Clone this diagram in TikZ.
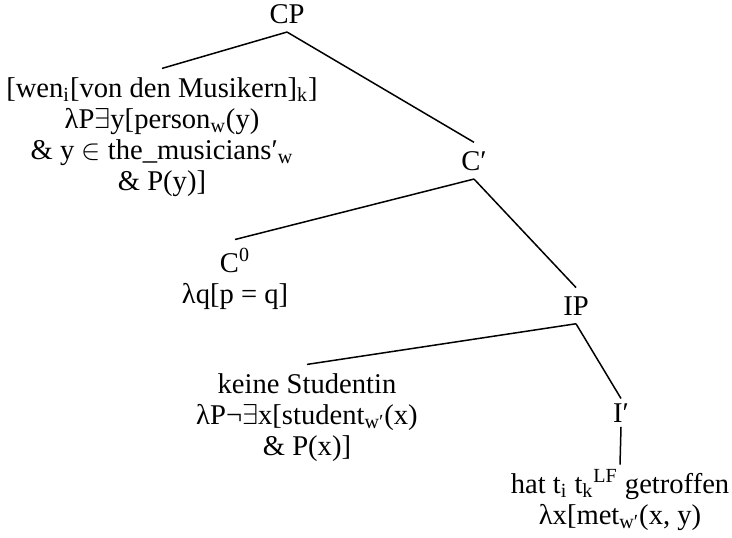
\documentclass[tikz,border=0pt]{standalone}
\usepackage{fontspec}
\setmainfont{Liberation Serif}
\begin{document}
\begin{tikzpicture}[x=0.5pt, y=-0.5pt, line width=0.75pt,
    font=\fontsize{14.3}{15.5}\selectfont,
    lbl/.style={align=center, anchor=base, inner sep=4pt}]

    % frame of the picture
    \useasboundingbox (0,0) rectangle (732,537);

    % top of the tree (base = baseline of the last line)
    \node[lbl] (cp) at (287,23) {CP};

    % moved wh-phrase
    \node[lbl] (whp) at (162,190) {[wen\textsubscript{i}[von den Musikern]\textsubscript{k}]\\
        λP$\exists$y[person\textsubscript{w}(y)\\
        \& y $\in$ the\_musicians′\textsubscript{w}\\
        \& P(y)]};

    % C-bar and C0
    \node[lbl] (cbar) at (474,170) {C′};
    \node[lbl] (czero) at (235,303) {C\textsuperscript{0}\\ λq[p = q]};

    % IP with subject and I-bar
    \node[lbl] (ip) at (576,315) {IP};
    \node[lbl] (subj) at (307,455) {keine Studentin\\
        λP¬$\exists$x[student\textsubscript{w′}(x)\\
        \& P(x)]};
    \node[lbl, inner ysep=2pt] (ibar) at (621,422) {I′};
    \node[lbl, inner ysep=2pt] (vp) at (620,524) {hat t\textsubscript{i} t\textsubscript{k}\textsuperscript{LF} getroffen\\
        λx[met\textsubscript{w′}(x, y)};

    % branches
    \draw (cp.south) -- (whp.north);
    \draw (cp.south) -- (cbar.north);
    \draw (cbar.south) -- (czero.north);
    \draw (cbar.south) -- (ip.north);
    \draw (ip.south) -- (subj.north);
    \draw (ip.south) -- (ibar.north);
    \draw (ibar.south) -- (vp.north);

\end{tikzpicture}
\end{document}
